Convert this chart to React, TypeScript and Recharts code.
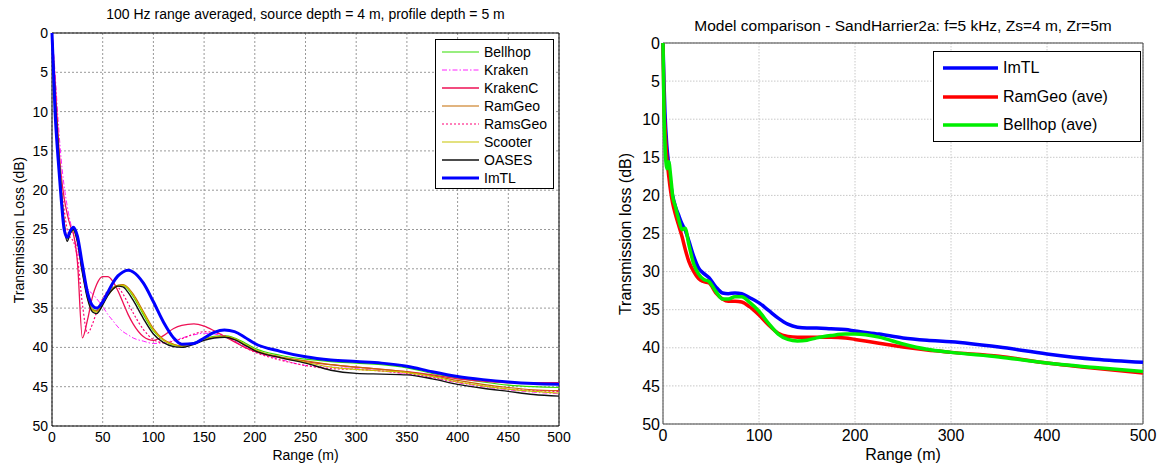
import React from "react";
import { LineChart, Line, XAxis, YAxis, CartesianGrid, ReferenceArea } from "recharts";

// ---------- Left chart data (100 Hz) ----------
const leftRanges = [0, 3, 6, 9, 12, 15, 18, 21, 25, 30, 35, 40, 44, 50, 55, 60, 65, 70, 75, 80, 90, 100, 110, 120, 128, 140, 150, 160, 170, 180, 190, 200, 225, 250, 275, 300, 325, 350, 375, 400, 425, 450, 475, 500];
const leftImTL = [0, 10, 16, 21, 25, 26, 25.2, 24.7, 25.8, 29.5, 33, 34.7, 35, 34.2, 33, 31.8, 30.9, 30.4, 30.2, 30.4, 31.8, 34.2, 36.8, 38.8, 39.6, 39.5, 38.8, 38.1, 37.8, 38.0, 38.7, 39.5, 40.5, 41.2, 41.6, 41.8, 42.0, 42.4, 43.1, 43.7, 44.1, 44.4, 44.6, 44.7];
const leftOASES = [0, 8, 14, 20, 24.5, 26.5, 25.5, 25, 26.5, 30.5, 33.8, 35.5, 35.7, 34.6, 33.4, 32.6, 32.2, 32.3, 33, 34, 36.3, 38.3, 39.4, 39.9, 40.0, 39.6, 39.1, 38.8, 38.7, 39.0, 39.7, 40.4, 41.3, 42.0, 42.9, 43.3, 43.4, 43.5, 44.0, 44.7, 45.2, 45.6, 46.0, 46.2];
const leftBellhop = [0, 8.5, 14.5, 20, 24.5, 26.2, 25.3, 24.9, 26.3, 30.2, 33.5, 35.2, 35.3, 34.3, 33.2, 32.4, 32.1, 32.1, 32.6, 33.5, 35.8, 37.9, 39.1, 39.7, 39.8, 39.4, 38.9, 38.6, 38.5, 38.8, 39.4, 40.1, 41.0, 41.5, 41.8, 42.0, 42.2, 42.6, 43.3, 43.9, 44.4, 44.8, 45.0, 45.1];
const leftRamGeo = [0, 8, 14, 19.5, 24, 26, 25.4, 25, 26.4, 30.3, 33.6, 35.2, 35.4, 34.4, 33.3, 32.5, 32.1, 32.0, 32.4, 33.2, 35.4, 37.6, 39.0, 39.6, 39.8, 39.5, 39.0, 38.7, 38.6, 38.9, 39.6, 40.3, 41.2, 41.7, 42.2, 42.5, 42.8, 43.1, 43.6, 44.2, 44.7, 45.1, 45.4, 45.5];
const leftScooter = [0, 8, 14, 19.5, 24, 26.1, 25.5, 25.1, 26.5, 30.4, 33.7, 35.3, 35.5, 34.5, 33.4, 32.6, 32.2, 32.1, 32.5, 33.4, 35.6, 37.8, 39.1, 39.7, 39.9, 39.5, 39.0, 38.7, 38.6, 38.9, 39.6, 40.3, 41.3, 41.9, 42.5, 42.8, 43.0, 43.2, 43.7, 44.4, 44.9, 45.3, 45.6, 45.8];
const leftKrakenC = [0, 6, 13, 18, 21, 23, 24.5, 25.5, 29, 38.8, 36.5, 33.5, 32, 31, 31, 31.6, 32.8, 34.3, 35.8, 37, 38.6, 39.1, 38.5, 37.6, 37.2, 37.0, 37.3, 37.9, 38.6, 39.3, 40.0, 40.5, 41.3, 41.8, 42.2, 42.5, 42.8, 43.1, 43.5, 44.0, 44.3, 44.5, 44.5, 44.5];
const leftRamsGeo = [0, 9, 14, 19, 22.5, 25, 26, 26.5, 28.5, 34.5, 38.2, 37, 35.5, 33.8, 32.8, 32.3, 32.4, 33.2, 34.4, 35.6, 37.7, 39, 39.4, 39.2, 38.9, 38.3, 38.0, 38.1, 38.5, 39.2, 40.0, 40.6, 41.6, 42.3, 42.7, 42.8, 43.0, 43.3, 43.8, 44.4, 44.9, 45.3, 45.5, 45.6];
const leftKraken = [0, 5, 11, 16, 19.5, 22, 24, 25.5, 27.5, 30.5, 32.5, 33.2, 33.8, 34.8, 35.8, 36.6, 37.4, 38, 38.4, 38.8, 39.2, 39.5, 39.4, 39.1, 38.8, 38.4, 38.2, 38.3, 38.6, 39.2, 39.9, 40.5, 41.5, 42.3, 42.5, 42.7, 43.0, 43.4, 43.9, 44.5, 45.0, 45.4, 45.7, 45.9];

// ---------- Right chart data (5 kHz) ----------
const rightRanges = [0, 1, 2, 4, 6, 8, 10, 13, 16, 20, 23, 27, 32, 37, 42, 48, 55, 62, 68, 75, 82, 90, 100, 110, 120, 130, 140, 150, 160, 175, 190, 200, 225, 250, 275, 300, 350, 400, 450, 500];
const rightImTL = [0, 5, 9, 13.5, 16, 18.5, 20, 21.5, 22.5, 23.8, 24.5, 26, 28, 29.5, 30.2, 30.8, 32, 32.8, 32.9, 32.8, 32.9, 33.4, 34.1, 35.1, 36.1, 36.9, 37.3, 37.4, 37.4, 37.5, 37.6, 37.8, 38.2, 38.7, 39.0, 39.2, 39.9, 40.8, 41.5, 41.9];
const rightRamGeo = [0, 8, 11, 15, 17.5, 19.5, 21, 22.5, 23.8, 25.5, 27, 28.7, 30.0, 30.9, 31.3, 31.5, 32.8, 33.6, 33.9, 33.9, 34.0, 34.6, 35.7, 37.0, 38.1, 38.5, 38.6, 38.6, 38.6, 38.6, 38.7, 38.9, 39.4, 39.9, 40.3, 40.6, 41.1, 42.0, 42.7, 43.3];
const rightBellhop = [0, 9, 13, 16.5, 15.6, 17.5, 20, 21.5, 23, 24.5, 24.3, 26.5, 29.0, 30.3, 31.0, 31.3, 32.6, 33.6, 33.6, 33.3, 33.3, 34.0, 35.2, 36.8, 38.2, 38.9, 39.1, 39.0, 38.7, 38.4, 38.2, 38.2, 38.6, 39.5, 40.2, 40.6, 41.2, 42.0, 42.6, 43.1];

const leftTicksX = [0, 50, 100, 150, 200, 250, 300, 350, 400, 450, 500];
const rightTicksX = [0, 100, 200, 300, 400, 500];
const ticksY = [0, 5, 10, 15, 20, 25, 30, 35, 40, 45, 50];

const leftTitle = "100 Hz range averaged, source depth = 4 m, profile depth = 5 m";
const rightTitle = "Model comparison - SandHarrier2a: f=5 kHz, Zs=4 m, Zr=5m";

const FONT = "'Liberation Sans', Arial, Helvetica, sans-serif";

type SeriesDef = { key: string; values: number[]; color: string; width: number; dash?: string };

const leftSeries: SeriesDef[] = [
  { key: "Bellhop", values: leftBellhop, color: "#33dd00", width: 1.2 },
  { key: "Kraken", values: leftKraken, color: "#ff22ff", width: 1, dash: "5 2 1.5 2" },
  { key: "KrakenC", values: leftKrakenC, color: "#ee1155", width: 1.3 },
  { key: "RamGeo", values: leftRamGeo, color: "#c46a00", width: 1.2 },
  { key: "RamsGeo", values: leftRamsGeo, color: "#ff0077", width: 1.2, dash: "2 2" },
  { key: "Scooter", values: leftScooter, color: "#c8c400", width: 1.2 },
  { key: "OASES", values: leftOASES, color: "#111111", width: 1.4 },
  { key: "ImTL", values: leftImTL, color: "#0000ff", width: 3 },
];

const rightSeries: SeriesDef[] = [
  { key: "ImTL", values: rightImTL, color: "#0000ff", width: 3.5 },
  { key: "RamGeo (ave)", values: rightRamGeo, color: "#ff0000", width: 3.5 },
  { key: "Bellhop (ave)", values: rightBellhop, color: "#00ee00", width: 3.5 },
];

function buildRows(ranges: number[], series: SeriesDef[]) {
  return ranges.map((r, i) => {
    const row: Record<string, number> = { r };
    series.forEach((s) => {
      row[s.key] = s.values[i];
    });
    return row;
  });
}

const leftRows = buildRows(leftRanges, leftSeries);
const rightRows = buildRows(rightRanges, rightSeries);

function LegendBox({ series, style, lineLen, rowH, fontSize, lineW }: { series: SeriesDef[]; style: React.CSSProperties; lineLen: number; rowH: number; fontSize: number; lineW?: number }) {
  return (
    <div style={{ position: "absolute", background: "#fff", border: "1px solid #000", boxSizing: "border-box", fontFamily: FONT, fontSize, color: "#000", ...style }}>
      {series.map((s) => (
        <div key={s.key} style={{ display: "flex", alignItems: "center", height: rowH }}>
          <svg width={lineLen} height={8} style={{ marginRight: 5, flex: "none" }}>
            <line x1={0} y1={4} x2={lineLen} y2={4} stroke={s.color} strokeWidth={lineW ?? s.width} strokeDasharray={s.dash} />
          </svg>
          <span>{s.key}</span>
        </div>
      ))}
    </div>
  );
}

export default function App() {
  return (
    <div style={{ position: "absolute", left: 0, top: 0, width: 1160, height: 467, background: "#fff", fontFamily: FONT, overflow: "hidden" }}>
      {/* Left chart */}
      <div style={{ position: "absolute", left: 0, top: 0 }}>
        <LineChart width={580} height={467} data={leftRows} margin={{ top: 33, right: 21, bottom: 0, left: 0 }}>
          <CartesianGrid stroke="#999" strokeDasharray="2 2" horizontalValues={ticksY} verticalValues={leftTicksX} />
          <XAxis dataKey="r" type="number" domain={[0, 500]} ticks={leftTicksX} height={41} tickLine={false} axisLine={false} tickSize={6} tickMargin={0} tick={{ fill: "#000", fontSize: 14, fontFamily: FONT }} interval={0} />
          <YAxis type="number" domain={[0, 50]} reversed ticks={ticksY} width={52} tickLine={false} axisLine={false} tickSize={4} tickMargin={0} tick={{ fill: "#000", fontSize: 14, fontFamily: FONT }} interval={0} />
          {leftSeries.map((s) => (
            <Line key={s.key} dataKey={s.key} type="monotone" stroke={s.color} strokeWidth={s.width} strokeDasharray={s.dash} dot={false} isAnimationActive={false} />
          ))}
          <ReferenceArea x1={0} x2={500} y1={0} y2={50} fill="none" stroke="#000" strokeWidth={1} ifOverflow="visible" />
        </LineChart>
      </div>
      <div style={{ position: "absolute", left: 52, width: 507, top: 6, textAlign: "center", fontSize: 14, color: "#000" }}>{leftTitle}</div>
      <div style={{ position: "absolute", left: 52, width: 507, top: 447, textAlign: "center", fontSize: 14, color: "#000" }}>Range (m)</div>
      <div style={{ position: "absolute", left: 19, top: 230, transform: "translate(-50%, -50%) rotate(-90deg)", whiteSpace: "nowrap", fontSize: 14, color: "#000" }}>Transmission Loss (dB)</div>
      <LegendBox series={leftSeries} style={{ left: 435, top: 39, width: 119, height: 150, paddingTop: 3, paddingLeft: 6 }} lineLen={37} rowH={18} fontSize={14} />

      {/* Right chart */}
      <div style={{ position: "absolute", left: 580, top: 0 }}>
        <LineChart width={580} height={467} data={rightRows} margin={{ top: 43, right: 17, bottom: 0, left: 35 }}>
          <CartesianGrid stroke="#c8c8c8" strokeDasharray="1.5 1.5" horizontalValues={ticksY} verticalValues={rightTicksX} />
          <XAxis dataKey="r" type="number" domain={[0, 500]} ticks={rightTicksX} height={43} tickLine={false} axisLine={false} tickSize={6} tickMargin={0} tick={{ fill: "#000", fontSize: 16, fontFamily: FONT }} interval={0} />
          <YAxis type="number" domain={[0, 50]} reversed ticks={ticksY} width={48} tickLine={false} axisLine={false} tickSize={3} tickMargin={0} tick={{ fill: "#000", fontSize: 16, fontFamily: FONT }} interval={0} />
          {rightSeries.map((s) => (
            <Line key={s.key} dataKey={s.key} type="monotone" stroke={s.color} strokeWidth={s.width} dot={false} isAnimationActive={false} />
          ))}
          <ReferenceArea x1={0} x2={500} y1={0} y2={50} fill="none" stroke="#444" strokeWidth={1} ifOverflow="visible" />
        </LineChart>
      </div>
      <div style={{ position: "absolute", left: 663, width: 480, top: 17, textAlign: "center", fontSize: 15.5, color: "#000" }}>{rightTitle}</div>
      <div style={{ position: "absolute", left: 663, width: 480, top: 446, textAlign: "center", fontSize: 16, color: "#000" }}>Range (m)</div>
      <div style={{ position: "absolute", left: 626, top: 234, transform: "translate(-50%, -50%) rotate(-90deg)", whiteSpace: "nowrap", fontSize: 16, color: "#000" }}>Transmission loss (dB)</div>
      <LegendBox series={rightSeries} style={{ left: 933, top: 51, width: 208, height: 91, paddingTop: 2, paddingLeft: 9 }} lineLen={55} rowH={28.5} fontSize={16} lineW={3.5} />
    </div>
  );
}
